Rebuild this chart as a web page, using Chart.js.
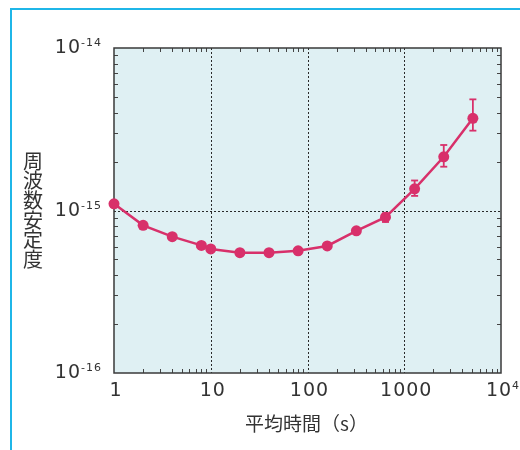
<!DOCTYPE html>
<html>
<head>
<meta charset="utf-8">
<script src="https://cdn.jsdelivr.net/npm/chart.js@4.4.1/dist/chart.umd.min.js"></script>
<style>
  html, body { margin: 0; padding: 0; background: #fff; }
  canvas { display: block; }
</style>
</head>
<body>
<canvas id="stability" width="520" height="450"></canvas>
<script>
// 平均時間 (s) と周波数安定度
const avgTimes = [1, 2, 4, 8, 10, 20, 40, 80, 160, 320, 640, 1280, 2560, 5120];
const stability = [1.10e-15, 8.1e-16, 6.9e-16, 6.1e-16, 5.8e-16, 5.5e-16, 5.5e-16,
                   5.65e-16, 6.05e-16, 7.5e-16, 9.1e-16, 1.36e-15, 2.14e-15, 3.69e-15];
// error bars (null = none drawn)
const errLow  = [null, null, null, null, null, null, null, null, null, null, 8.5e-16, 1.23e-15, 1.86e-15, 3.10e-15];
const errHigh = [null, null, null, null, null, null, null, null, null, null, 9.6e-16, 1.53e-15, 2.53e-15, 4.83e-15];

const xTickValues = [1, 10, 100, 1000, 10000];
const xTickLabels = ['1', '10', '100', '1000', '10^4'];
const yTickValues = [1e-16, 1e-15, 1e-14];
const yTickLabels = ['10^-16', '10^-15', '10^-14'];
const xGridAt = [10, 100, 1000];
const yGridAt = [1e-15];
const minorSteps = [2, 3, 4, 5, 6, 7, 8, 9];

const xTitle = '平均時間（s）';
const yTitle = '周波数安定度';

const PINK = '#d8306a';
const INK = '#333333';
const NUM_FONT = '"DejaVu Sans", sans-serif';
const JP_FONT = '"Noto Sans CJK JP", sans-serif';

function line(ctx, x1, y1, x2, y2) {
  ctx.beginPath();
  ctx.moveTo(x1, y1);
  ctx.lineTo(x2, y2);
  ctx.stroke();
}

// "10^-14" -> 10 with a small raised exponent
function drawPowerLabel(ctx, text, x, baseline, align) {
  const parts = text.split('^');
  ctx.letterSpacing = '1px';
  ctx.font = '19px ' + NUM_FONT;
  const wBase = ctx.measureText(parts[0]).width;
  let wSup = 0;
  if (parts[1]) {
    ctx.font = '11px ' + NUM_FONT;
    wSup = ctx.measureText(parts[1]).width;
  }
  const total = wBase + wSup;
  let start = x;
  if (align === 'right') start = x - total;
  if (align === 'center') start = x - total / 2;
  ctx.textAlign = 'left';
  ctx.textBaseline = 'alphabetic';
  ctx.font = '19px ' + NUM_FONT;
  ctx.fillText(parts[0], start, baseline);
  if (parts[1]) {
    ctx.font = '11px ' + NUM_FONT;
    ctx.fillText(parts[1], start + wBase, baseline - 7);
  }
  ctx.letterSpacing = '0px';
}

const backdropPlugin = {
  id: 'backdrop',
  beforeDraw(chart) {
    const { ctx, chartArea: a } = chart;
    const sx = chart.scales.x, sy = chart.scales.y;
    ctx.save();
    ctx.fillStyle = '#dff0f3';
    ctx.fillRect(a.left, a.top, a.right - a.left, a.bottom - a.top);

    // dotted grid lines at the decades
    ctx.strokeStyle = '#2a2a2a';
    ctx.lineWidth = 1;
    ctx.setLineDash([2, 2]);
    xGridAt.forEach(v => {
      const px = Math.round(sx.getPixelForValue(v)) + 0.5;
      line(ctx, px, a.top, px, a.bottom);
    });
    yGridAt.forEach(v => {
      const py = Math.round(sy.getPixelForValue(v)) + 0.5;
      line(ctx, a.left, py, a.right, py);
    });
    ctx.setLineDash([]);

    // minor ticks, pointing inward on all four sides
    ctx.strokeStyle = '#444';
    ctx.lineWidth = 1;
    const tl = 4;
    xTickValues.slice(0, -1).forEach(d => {
      minorSteps.forEach(m => {
        const px = Math.round(sx.getPixelForValue(d * m)) + 0.5;
        line(ctx, px, a.bottom, px, a.bottom - tl);
        line(ctx, px, a.top, px, a.top + tl);
      });
    });
    yTickValues.slice(0, -1).forEach(d => {
      minorSteps.forEach(m => {
        const py = Math.round(sy.getPixelForValue(d * m)) + 0.5;
        line(ctx, a.left, py, a.left + tl, py);
        line(ctx, a.right, py, a.right - tl, py);
      });
    });

    // plot frame
    ctx.strokeStyle = '#3a3a3a';
    ctx.lineWidth = 1.5;
    ctx.strokeRect(a.left, a.top, a.right - a.left, a.bottom - a.top);

    // tick labels
    ctx.fillStyle = INK;
    xTickValues.forEach((v, i) => {
      drawPowerLabel(ctx, xTickLabels[i], sx.getPixelForValue(v) + 2, a.bottom + 23, 'center');
    });
    yTickValues.forEach((v, i) => {
      drawPowerLabel(ctx, yTickLabels[i], a.left - 12, sy.getPixelForValue(v) + 5, 'right');
    });

    // axis titles
    ctx.font = '19px ' + JP_FONT;
    ctx.textAlign = 'center';
    ctx.textBaseline = 'middle';
    ctx.fillText(xTitle, (a.left + a.right) / 2 - 1, a.bottom + 51);
    ctx.font = '20px ' + JP_FONT;
    Array.from(yTitle).forEach((ch, i) => {
      ctx.fillText(ch, 33, 161 + i * 19.7);
    });

    // cyan page frame
    ctx.fillStyle = '#1fb6e8';
    ctx.fillRect(10, 8, 510, 2);
    ctx.fillRect(10, 8, 2, 442);
    ctx.restore();
  }
};

const errorBarPlugin = {
  id: 'errorBars',
  afterDatasetsDraw(chart) {
    const { ctx } = chart;
    const sx = chart.scales.x, sy = chart.scales.y;
    ctx.save();
    ctx.strokeStyle = PINK;
    ctx.lineWidth = 1.8;
    avgTimes.forEach((t, i) => {
      if (errLow[i] == null) return;
      const px = sx.getPixelForValue(t);
      const yHi = sy.getPixelForValue(errHigh[i]);
      const yLo = sy.getPixelForValue(errLow[i]);
      line(ctx, px, yHi, px, yLo);
      line(ctx, px - 3.5, yHi, px + 3.5, yHi);
      line(ctx, px - 3.5, yLo, px + 3.5, yLo);
    });
    ctx.restore();
  }
};

new Chart(document.getElementById('stability').getContext('2d'), {
  type: 'line',
  data: {
    datasets: [
      {
        label: yTitle,
        data: avgTimes.map((t, i) => ({ x: t, y: stability[i] })),
        borderColor: PINK,
        backgroundColor: PINK,
        borderWidth: 2.5,
        pointRadius: 5.5,
        pointBorderWidth: 0,
        pointBackgroundColor: PINK,
        tension: 0,
        clip: false,
      },
    ],
  },
  options: {
    responsive: false,
    animation: false,
    layout: {
      padding: { left: 114, top: 48, right: 19, bottom: 77 },
    },
    scales: {
      x: { type: 'logarithmic', min: 1, max: 10000, display: false },
      y: { type: 'logarithmic', min: 1e-16, max: 1e-14, display: false },
    },
    plugins: {
      legend: { display: false },
      tooltip: { enabled: false },
    },
  },
  plugins: [backdropPlugin, errorBarPlugin],
});
</script>
</body>
</html>
